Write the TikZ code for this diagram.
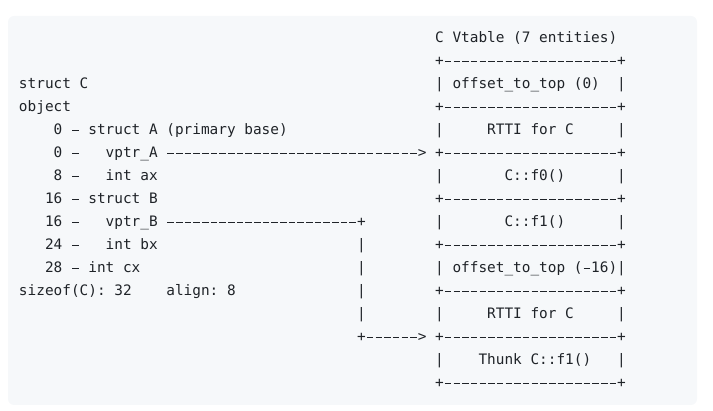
\documentclass[tikz,border=0pt]{standalone}
\usepackage{fontspec}
\setmonofont{DejaVu Sans Mono}
\definecolor{codebg}{HTML}{F6F8FA}
\definecolor{codefg}{HTML}{1F2328}
\newcommand\seg[4]{\node[txt] (#1) at ({19pt+#2*8.67pt},{-43pt-#3*23pt}) {#4};}
\newcommand\dsh{\makebox[8.67pt]{\rule[4.5pt]{6.6pt}{0.9pt}}}
\newcommand\dd{\dsh\dsh\dsh\dsh\dsh\dsh\dsh\dsh\dsh\dsh}
\newcommand\brd{+\dd\dd+}
\tikzset{txt/.style={anchor=base west, inner sep=0pt, outer sep=0pt, text=codefg, font=\ttfamily\fontsize{14.4pt}{23pt}\selectfont}}
\begin{document}
\begin{tikzpicture}
\useasboundingbox (0,0) rectangle (713pt,-411pt);
\fill[codebg, rounded corners=6pt] (8pt,-16pt) rectangle (697pt,-405pt);
% vtable title and rows
\seg{title}{48}{0}{C Vtable (7 entities)}
\seg{b1}{48}{1}{\brd}
\seg{l2}{48}{2}{|}\seg{v0}{50}{2}{offset\_to\_top (0)}\seg{r2}{69}{2}{|}
\seg{b3}{48}{3}{\brd}
\seg{l4}{48}{4}{|}\seg{v1}{54}{4}{RTTI for C}\seg{r4}{69}{4}{|}
\seg{b5}{48}{5}{\brd}
\seg{l6}{48}{6}{|}\seg{v2}{56}{6}{C::f0()}\seg{r6}{69}{6}{|}
\seg{b7}{48}{7}{\brd}
\seg{l8}{48}{8}{|}\seg{v3}{56}{8}{C::f1()}\seg{r8}{69}{8}{|}
\seg{b9}{48}{9}{\brd}
\seg{l10}{48}{10}{|}\seg{v4}{50}{10}{offset\_to\_top (\dsh16)|}
\seg{b11}{48}{11}{\brd}
\seg{l12}{48}{12}{|}\seg{v5}{54}{12}{RTTI for C}\seg{r12}{69}{12}{|}
\seg{b13}{48}{13}{\brd}
\seg{l14}{48}{14}{|}\seg{v6}{53}{14}{Thunk C::f1()}\seg{r14}{69}{14}{|}
\seg{b15}{48}{15}{\brd}
% object layout
\seg{s0}{0}{2}{struct C}
\seg{s1}{0}{3}{object}
\seg{n4}{4}{4}{0}\seg{d4}{6}{4}{\dsh}\seg{s4}{8}{4}{struct A (primary base)}
\seg{n5}{4}{5}{0}\seg{d5}{6}{5}{\dsh}\seg{s5}{10}{5}{vptr\_A}
\seg{n6}{4}{6}{8}\seg{d6}{6}{6}{\dsh}\seg{s6}{10}{6}{int ax}
\seg{n7}{3}{7}{16}\seg{d7}{6}{7}{\dsh}\seg{s7}{8}{7}{struct B}
\seg{n8}{3}{8}{16}\seg{d8}{6}{8}{\dsh}\seg{s8}{10}{8}{vptr\_B}
\seg{n9}{3}{9}{24}\seg{d9}{6}{9}{\dsh}\seg{s9}{10}{9}{int bx}
\seg{n10}{3}{10}{28}\seg{d10}{6}{10}{\dsh}\seg{s10}{8}{10}{int cx}
\seg{s11}{0}{11}{sizeof(C): 32}\seg{a11}{17}{11}{align: 8}
% pointers
\seg{pA}{17}{5}{\dd\dd\dsh\dsh\dsh\dsh\dsh\dsh\dsh\dsh\dsh>}
\seg{pB}{17}{8}{\dd\dd\dsh\dsh+}
\seg{q9}{39}{9}{|}
\seg{q10}{39}{10}{|}
\seg{q11}{39}{11}{|}
\seg{q12}{39}{12}{|}
\seg{q13}{39}{13}{+\dsh\dsh\dsh\dsh\dsh\dsh>}
\end{tikzpicture}
\end{document}
